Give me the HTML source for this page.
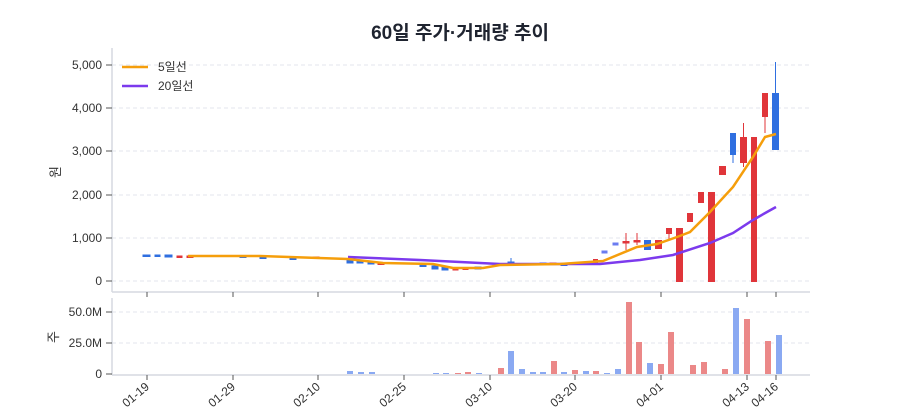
<!DOCTYPE html>
<html><head><meta charset="utf-8"><style>
body{margin:0;background:#fff}
svg{display:block;font-family:"Liberation Sans","Noto Sans CJK KR",sans-serif}
</style></head><body>
<svg width="900" height="420" viewBox="0 0 900 420" xmlns="http://www.w3.org/2000/svg">
<text x="460" y="39" text-anchor="middle" font-size="19" font-weight="bold" fill="#1f2430">60일 주가·거래량 추이</text>
<!-- grid main -->
<g stroke="#e3e6ec" stroke-dasharray="4,3" stroke-width="1">
<line x1="112" y1="65" x2="810" y2="65"/><line x1="112" y1="108" x2="810" y2="108"/>
<line x1="112" y1="151" x2="810" y2="151"/><line x1="112" y1="195" x2="810" y2="195"/>
<line x1="112" y1="238" x2="810" y2="238"/><line x1="112" y1="281" x2="810" y2="281"/>
<line x1="112" y1="312" x2="810" y2="312"/><line x1="112" y1="343" x2="810" y2="343"/>
</g>
<g stroke="#d5d9e0" stroke-width="1.5" fill="none">
<line x1="112" y1="48" x2="112" y2="292"/><line x1="112" y1="292" x2="810" y2="292"/>
<line x1="112" y1="298" x2="112" y2="375"/><line x1="112" y1="375" x2="810" y2="375"/>
</g>
<g font-size="12" fill="#333" text-anchor="end">
<text x="102" y="69">5,000</text><text x="102" y="112">4,000</text><text x="102" y="155">3,000</text>
<text x="102" y="199">2,000</text><text x="102" y="242">1,000</text><text x="102" y="285">0</text>
<text x="102" y="316">50.0M</text><text x="102" y="347">25.0M</text><text x="102" y="378">0</text>
</g>
<g stroke="#555" stroke-width="1">
<line x1="106" y1="65" x2="112" y2="65"/><line x1="106" y1="108" x2="112" y2="108"/><line x1="106" y1="151" x2="112" y2="151"/>
<line x1="106" y1="195" x2="112" y2="195"/><line x1="106" y1="238" x2="112" y2="238"/><line x1="106" y1="281" x2="112" y2="281"/>
<line x1="106" y1="312" x2="112" y2="312"/><line x1="106" y1="343" x2="112" y2="343"/><line x1="106" y1="374" x2="112" y2="374"/>
</g>
<text transform="translate(60,172) rotate(-90)" font-size="13" fill="#333" text-anchor="middle">원</text>
<text transform="translate(58,337) rotate(-90)" font-size="13" fill="#333" text-anchor="middle">주</text>
<!-- x ticks -->
<g stroke="#555" stroke-width="1">
<line x1="147" y1="292" x2="147" y2="297"/><line x1="233" y1="292" x2="233" y2="297"/><line x1="318" y1="292" x2="318" y2="297"/>
<line x1="404" y1="292" x2="404" y2="297"/><line x1="490" y1="292" x2="490" y2="297"/><line x1="575" y1="292" x2="575" y2="297"/>
<line x1="661" y1="292" x2="661" y2="297"/><line x1="747" y1="292" x2="747" y2="297"/><line x1="776" y1="292" x2="776" y2="297"/>
<line x1="147" y1="375" x2="147" y2="380"/><line x1="233" y1="375" x2="233" y2="380"/><line x1="318" y1="375" x2="318" y2="380"/>
<line x1="404" y1="375" x2="404" y2="380"/><line x1="490" y1="375" x2="490" y2="380"/><line x1="575" y1="375" x2="575" y2="380"/>
<line x1="661" y1="375" x2="661" y2="380"/><line x1="747" y1="375" x2="747" y2="380"/><line x1="776" y1="375" x2="776" y2="380"/>
</g>
<g font-size="12" fill="#333" text-anchor="end">
<text transform="translate(150,388) rotate(-40)">01-19</text><text transform="translate(236,388) rotate(-40)">01-29</text>
<text transform="translate(321,388) rotate(-40)">02-10</text><text transform="translate(407,388) rotate(-40)">02-25</text>
<text transform="translate(493,388) rotate(-40)">03-10</text><text transform="translate(578,388) rotate(-40)">03-20</text>
<text transform="translate(664,388) rotate(-40)">04-01</text><text transform="translate(750,388) rotate(-40)">04-13</text>
<text transform="translate(779,388) rotate(-40)">04-16</text>
</g>
<!-- candles -->
<g fill="#2f6fe0" stroke="#2f6fe0">
<rect x="143" y="255" width="7" height="1.5"/><rect x="155" y="255" width="5" height="1.5"/><rect x="165" y="255" width="7" height="2"/>
<rect x="240" y="256" width="6" height="1.5"/><rect x="260" y="257" width="6" height="1.5"/><rect x="290" y="258" width="6" height="1.5"/>
<rect x="347" y="260" width="6" height="3"/><rect x="357" y="261" width="6" height="2"/><rect x="368" y="262" width="6" height="2"/>
<rect x="420" y="265" width="6" height="1.5"/><rect x="432" y="266" width="6" height="3"/><rect x="442" y="267" width="6" height="3"/>
<rect x="475" y="267" width="6" height="2"/><rect x="508" y="262" width="6" height="2"/><line x1="511" y1="258" x2="511" y2="265"/>
<rect x="540" y="263" width="6" height="1.5"/><rect x="561" y="264" width="6" height="1.5"/><rect x="583" y="263" width="6" height="1.5"/>
<rect x="602" y="251" width="5" height="2" fill="#6b7cf0" stroke="#6b7cf0"/><rect x="613" y="243" width="5" height="2" fill="#6b7cf0" stroke="#6b7cf0"/>
<rect x="644.5" y="240.5" width="6" height="9"/>
<line x1="733" y1="150" x2="733" y2="163"/><rect x="730.5" y="133.5" width="5" height="21"/>
<line x1="775.5" y1="62" x2="775.5" y2="93"/><rect x="772.5" y="93.5" width="6" height="56"/>
</g>
<g fill="#e0353a" stroke="#e0353a">
<rect x="177" y="256" width="5" height="1.5"/><rect x="187" y="256" width="6" height="1.5"/><rect x="313" y="257" width="6" height="1.5"/>
<rect x="378" y="263" width="6" height="1.5"/><rect x="453" y="268" width="5" height="2"/><rect x="463" y="268" width="5" height="1.5"/>
<rect x="550" y="263" width="6" height="1.5"/><rect x="572" y="263" width="6" height="1.5"/>
<rect x="593.5" y="259.5" width="4" height="3"/>
<line x1="626" y1="233" x2="626" y2="250"/><rect x="623" y="241.5" width="6" height="1.5"/>
<line x1="637" y1="233" x2="637" y2="245"/><rect x="634" y="240.5" width="6" height="1.5"/>
<rect x="655.5" y="240.5" width="6" height="8"/>
<line x1="669" y1="234" x2="669" y2="240"/><rect x="666.5" y="228.5" width="5" height="5"/>
<rect x="676.5" y="228.5" width="6" height="53"/>
<rect x="687.5" y="213.5" width="5" height="8"/>
<rect x="698.5" y="192.5" width="5" height="10"/>
<rect x="708.5" y="192.5" width="6" height="89"/>
<rect x="719.5" y="166.5" width="6" height="8"/>
<line x1="743.5" y1="123" x2="743.5" y2="167"/><rect x="740.5" y="137.5" width="6" height="25"/>
<rect x="751.5" y="137.5" width="5" height="144"/>
<line x1="765" y1="117" x2="765" y2="133"/><rect x="762.5" y="93.5" width="5" height="23"/>
</g>
<!-- MA lines -->
<polyline fill="none" stroke="#7c3aed" stroke-width="2.5" points="348,257 420,260 500,264 600,264 640,260 673,255 710,243 733,233 753,220 767,212 776,207"/>
<polyline fill="none" stroke="#f59e0b" stroke-width="2.5" points="188,256 260,256 348,259 383,263 433,264 453,268 483,268 500,265 560,264 603,261 637,247 657,244 677,237 690,232 710,212 733,187 753,157 765,137 776,134"/>
<!-- legend -->
<line x1="122" y1="67" x2="148" y2="67" stroke="#f59e0b" stroke-width="2.5"/>
<text x="158" y="71" font-size="12" fill="#333">5일선</text>
<line x1="122" y1="86" x2="148" y2="86" stroke="#7c3aed" stroke-width="2.5"/>
<text x="158" y="90" font-size="12" fill="#333">20일선</text>
<!-- volume -->
<g fill="#8aa9f2">
<rect x="347" y="371" width="6" height="3"/><rect x="358" y="372" width="6" height="2"/><rect x="369" y="372" width="6" height="2"/>
<rect x="433" y="373" width="6" height="1"/><rect x="443" y="373" width="6" height="1"/><rect x="476" y="373" width="6" height="1"/>
<rect x="508" y="351" width="6" height="23"/><rect x="519" y="369" width="6" height="5"/><rect x="530" y="372" width="6" height="2"/>
<rect x="540" y="372" width="6" height="2"/><rect x="561" y="372" width="6" height="2"/><rect x="583" y="371" width="6" height="3"/>
<rect x="604" y="373" width="6" height="1"/><rect x="615" y="369" width="6" height="5"/><rect x="647" y="363" width="6" height="11"/>
<rect x="733" y="308" width="6" height="66"/><rect x="776" y="335" width="6" height="39"/>
</g>
<g fill="#eb8888">
<rect x="455" y="373" width="6" height="1"/><rect x="465" y="372" width="6" height="2"/>
<rect x="498" y="368" width="6" height="6"/><rect x="551" y="361" width="6" height="13"/><rect x="572" y="370" width="6" height="4"/>
<rect x="593" y="371" width="6" height="3"/><rect x="626" y="302" width="6" height="72"/><rect x="636" y="342" width="6" height="32"/>
<rect x="658" y="364" width="6" height="10"/><rect x="668" y="332" width="6" height="42"/><rect x="690" y="365" width="6" height="9"/>
<rect x="701" y="362" width="6" height="12"/><rect x="722" y="369" width="6" height="5"/><rect x="744" y="319" width="6" height="55"/>
<rect x="765" y="341" width="6" height="33"/>
</g>
</svg>
</body></html>
